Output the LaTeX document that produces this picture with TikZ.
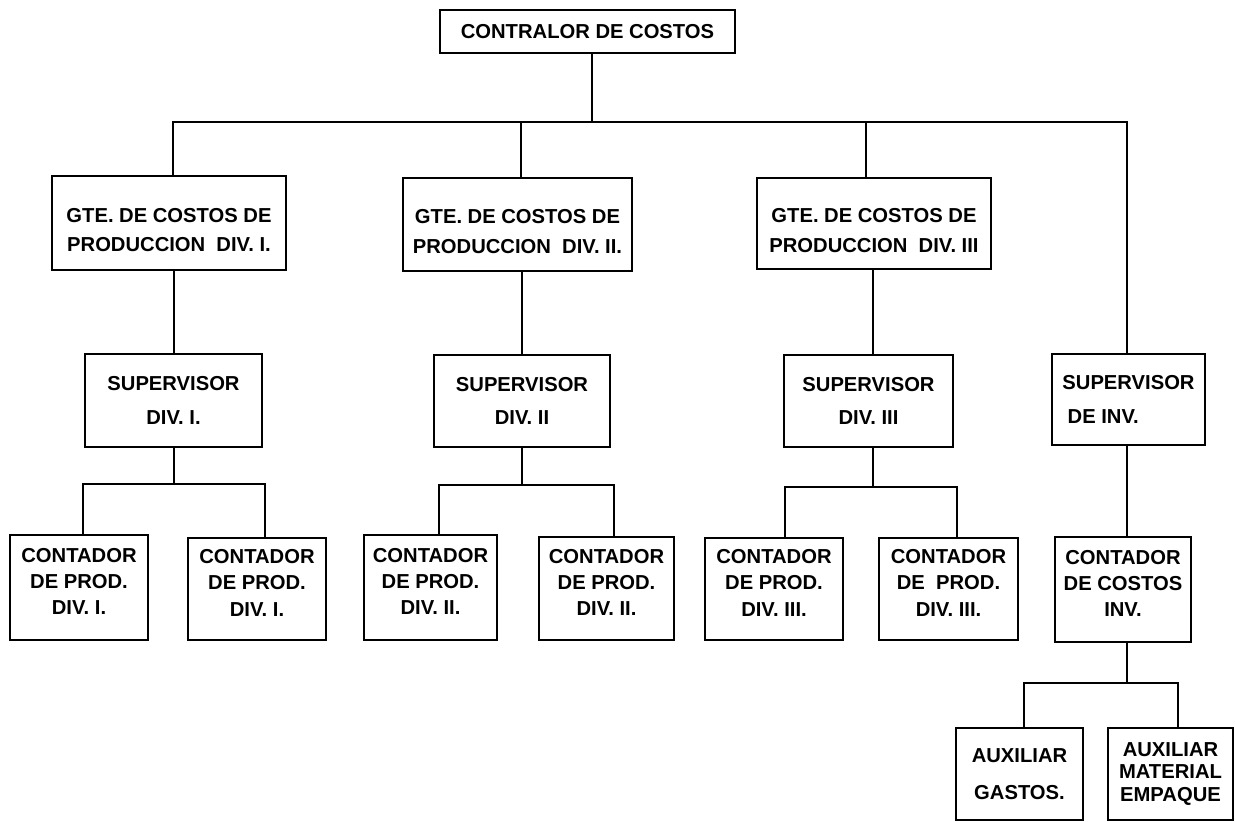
\documentclass[tikz,border=0pt]{standalone}
\usepackage{fontspec}
\setmainfont{Liberation Sans}
\newcommand{\dnshift}{\rule{0pt}{16pt}}
\newcommand{\upshift}{\rule[-7pt]{0pt}{1pt}}
\begin{document}
\begin{tikzpicture}[x=0.02cm,y=-0.02cm,
  box/.style={draw, line width=0.9pt, align=center, inner sep=0pt,
    font=\fontsize{11.5}{#1}\selectfont\bfseries},
  box/.default=15pt,
  conn/.style={line width=0.9pt}]
\useasboundingbox (0,0) rectangle (1235,822);
% nodes
\node[box=14pt, minimum width=5.9cm, minimum height=0.86cm] (top) at (587.5,31.5) {CONTRALOR DE COSTOS};
\node[box=17pt, minimum width=4.68cm, minimum height=1.88cm] (gte1) at (169,223) {\dnshift GTE. DE COSTOS DE\\PRODUCCION\ \ DIV. I.};
\node[box=17pt, minimum width=4.58cm, minimum height=1.86cm] (gte2) at (517.5,224.5) {\dnshift GTE. DE COSTOS DE\\PRODUCCION\ \ DIV. II.};
\node[box=17pt, minimum width=4.68cm, minimum height=1.82cm] (gte3) at (874,223.5) {\dnshift GTE. DE COSTOS DE\\PRODUCCION\ \ DIV. III};
\node[box=19pt, minimum width=3.54cm, minimum height=1.86cm] (sup1) at (173.5,400.5) {SUPERVISOR\\DIV. I.};
\node[box=19pt, minimum width=3.52cm, minimum height=1.84cm] (sup2) at (522,401) {SUPERVISOR\\DIV. II};
\node[box=19pt, minimum width=3.38cm, minimum height=1.84cm] (sup3) at (868.5,401) {SUPERVISOR\\DIV. III};
\node[box=19pt, minimum width=3.06cm, minimum height=1.82cm] (supinv) at (1128.5,399.5) {SUPERVISOR\\\hspace*{0.4em}DE INV.\hspace*{2.9em}};
\node[box, minimum width=2.76cm, minimum height=2.1cm] (c1a) at (79,587.5) {CONTADOR\\DE PROD.\\DIV. I.\upshift};
\node[box, minimum width=2.76cm, minimum height=2.04cm] (c1b) at (257,589) {CONTADOR\\DE PROD.\\DIV. I.\upshift};
\node[box, minimum width=2.66cm, minimum height=2.1cm] (c2a) at (430.5,587.5) {CONTADOR\\DE PROD.\\DIV. II.\upshift};
\node[box, minimum width=2.7cm, minimum height=2.06cm] (c2b) at (606.5,588.5) {CONTADOR\\DE PROD.\\DIV. II.\upshift};
\node[box, minimum width=2.76cm, minimum height=2.04cm] (c3a) at (774,589) {CONTADOR\\DE PROD.\\DIV. III.\upshift};
\node[box, minimum width=2.78cm, minimum height=2.04cm] (c3b) at (948.5,589) {CONTADOR\\DE\ \ PROD.\\DIV. III.\upshift};
\node[box, minimum width=2.72cm, minimum height=2.1cm] (cinv) at (1123,589.5) {CONTADOR\\DE COSTOS\\INV.\upshift};
\node[box=21pt, minimum width=2.54cm, minimum height=1.84cm] (auxg) at (1019.5,774) {AUXILIAR\\GASTOS.};
\node[box=13pt, minimum width=2.5cm, minimum height=1.84cm] (auxm) at (1170.5,774) {AUXILIAR\\MATERIAL\\EMPAQUE};
% bus coordinates
\coordinate (b0) at (592,122);
\coordinate (b1) at (173,122);
\coordinate (b2) at (521,122);
\coordinate (b3) at (866,122);
\coordinate (b4) at (1127,122);
\coordinate (d1) at (174,484);
\coordinate (d1a) at (83,484);
\coordinate (d1b) at (265,484);
\coordinate (d2) at (522,485);
\coordinate (d2a) at (439,485);
\coordinate (d2b) at (614,485);
\coordinate (d3) at (873,487);
\coordinate (d3a) at (785,487);
\coordinate (d3b) at (957,487);
\coordinate (d4) at (1127,683);
\coordinate (d4a) at (1024,683);
\coordinate (d4b) at (1178,683);
% connectors
\draw[conn] (top.south -| b0) -- (b0);
\draw[conn] (b1 |- gte1.north) -- (b1) -- (b4) -- (b4 |- supinv.north);
\draw[conn] (b2) -- (b2 |- gte2.north);
\draw[conn] (b3) -- (b3 |- gte3.north);
\draw[conn] (gte1.south -| d1) -- (d1 |- sup1.north);
\draw[conn] (gte2.south -| d2) -- (d2 |- sup2.north);
\draw[conn] (gte3.south -| d3) -- (d3 |- sup3.north);
\draw[conn] (sup1.south -| d1) -- (d1);
\draw[conn] (d1a |- c1a.north) -- (d1a) -- (d1b) -- (d1b |- c1b.north);
\draw[conn] (sup2.south -| d2) -- (d2);
\draw[conn] (d2a |- c2a.north) -- (d2a) -- (d2b) -- (d2b |- c2b.north);
\draw[conn] (sup3.south -| d3) -- (d3);
\draw[conn] (d3a |- c3a.north) -- (d3a) -- (d3b) -- (d3b |- c3b.north);
\draw[conn] (supinv.south -| d4) -- (d4 |- cinv.north);
\draw[conn] (cinv.south -| d4) -- (d4);
\draw[conn] (d4a |- auxg.north) -- (d4a) -- (d4b) -- (d4b |- auxm.north);
\end{tikzpicture}
\end{document}
